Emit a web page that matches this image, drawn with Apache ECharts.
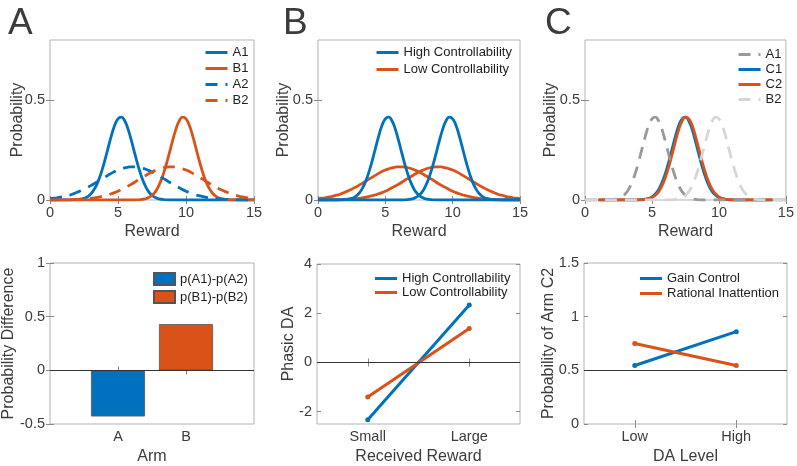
<!DOCTYPE html>
<html>
<head>
<meta charset="utf-8">
<script src="https://cdn.jsdelivr.net/npm/echarts@6/dist/echarts.min.js"></script>
<style>html,body{margin:0;padding:0;background:#fff}#chart{width:797px;height:466px}</style>
</head>
<body>
<div id="chart"></div>
<script>
// ---------- DATA ----------
const rewardX = [0,0.25,0.5,0.75,1,1.25,1.5,1.75,2,2.25,2.5,2.75,3,3.25,3.5,3.75,4,4.25,4.5,4.75,5,5.25,5.5,5.75,6,6.25,6.5,6.75,7,7.25,7.5,7.75,8,8.25,8.5,8.75,9,9.25,9.5,9.75,10,10.25,10.5,10.75,11,11.25,11.5,11.75,12,12.25,12.5,12.75,13,13.25,13.5,13.75,14,14.25,14.5,14.75,15];
const probA1 = [0,0,0,0,0,0,0,0.001,0.002,0.004,0.008,0.016,0.030,0.053,0.087,0.133,0.190,0.254,0.318,0.372,0.406,0.414,0.395,0.352,0.293,0.228,0.166,0.113,0.072,0.042,0.024,0.012,0.006,0.003,0.001,0,0,0,0,0,0,0,0,0,0,0,0,0,0,0,0,0,0,0,0,0,0,0,0,0,0];
const probB1 = [0,0,0,0,0,0,0,0,0,0,0,0,0,0,0,0,0,0,0,0,0,0,0,0,0,0,0.001,0.003,0.006,0.012,0.024,0.042,0.072,0.113,0.166,0.228,0.293,0.352,0.395,0.414,0.406,0.372,0.318,0.254,0.190,0.133,0.087,0.053,0.030,0.016,0.008,0.004,0.002,0.001,0,0,0,0,0,0,0];
const probA2 = [0.007,0.009,0.011,0.014,0.017,0.022,0.026,0.032,0.039,0.046,0.054,0.063,0.072,0.082,0.092,0.103,0.113,0.123,0.133,0.142,0.150,0.156,0.161,0.164,0.166,0.166,0.164,0.160,0.155,0.148,0.140,0.131,0.121,0.111,0.101,0.090,0.080,0.070,0.061,0.052,0.044,0.037,0.031,0.025,0.021,0.017,0.013,0.010,0.008,0.006,0.005,0.004,0.003,0.002,0.001,0.001,0.001,0.001,0,0,0];
const probB2 = [0,0,0,0.001,0.001,0.001,0.001,0.002,0.003,0.004,0.005,0.006,0.008,0.010,0.013,0.017,0.021,0.025,0.031,0.037,0.044,0.052,0.061,0.070,0.080,0.090,0.101,0.111,0.121,0.131,0.140,0.148,0.155,0.160,0.164,0.166,0.166,0.164,0.161,0.156,0.150,0.142,0.133,0.123,0.113,0.103,0.092,0.082,0.072,0.063,0.054,0.046,0.039,0.032,0.026,0.022,0.017,0.014,0.011,0.009,0.007];
const probC1 = [null,null,null,null,0,0,0,0,0,0,0,0,0,0,0,0,0.001,0.002,0.004,0.008,0.016,0.030,0.053,0.087,0.133,0.190,0.254,0.318,0.372,0.406,0.414,0.395,0.352,0.293,0.228,0.166,0.113,0.072,0.042,0.024,0.012,0.006,0.003,0.001,0,0,0,0,0,0,0,0,0,0,0,0,0,null,null,null,null];
const probC2 = [null,null,null,null,0,0,0,0,0,0,0,0,0,0,0,0,0,0.001,0.003,0.006,0.012,0.024,0.042,0.072,0.113,0.166,0.228,0.293,0.352,0.395,0.414,0.406,0.372,0.318,0.254,0.190,0.133,0.087,0.053,0.030,0.016,0.008,0.004,0.002,0.001,0,0,0,0,0,0,0,0,0,0,0,0,null,null,null,null];

const armCategories = ['A', 'B'];
const probDifference = [-0.43, 0.43];

const rewardLevels = ['Small', 'Large'];
const phasicHigh = [-2.33, 2.33];
const phasicLow = [-1.4, 1.38];

const daLevels = ['Low', 'High'];
const gainControl = [0.545, 0.86];
const rationalInattention = [0.75, 0.545];

const panelLetters = ['A', 'B', 'C'];

// ---------- STYLE ----------
const BLUE = '#0072BD', ORANGE = '#D95319', GRAY = '#999999', LIGHT = '#d6d6d6';
const TXT = '#3c3c3c', TICK = '#8a8a8a', BOX = '#b3b3b3';
const FONT = 'Liberation Sans, Arial, sans-serif';
const LW = 2.8;

const grids = [
  {left: 50, top: 40, width: 204, height: 160},
  {left: 318, top: 40, width: 202, height: 160},
  {left: 585, top: 40, width: 202, height: 160},
  {left: 50, top: 263, width: 204, height: 162},
  {left: 317, top: 264, width: 203, height: 161},
  {left: 584, top: 263, width: 203, height: 162}
].map(g => Object.assign({show: true, borderColor: BOX, borderWidth: 1, backgroundColor: 'transparent'}, g));

const xAxes = [], yAxes = [];
const nameStyle = {color: TXT, fontSize: 16, fontFamily: FONT};
const labStyle = {color: TXT, fontSize: 14.5, fontFamily: FONT};

function addX(gi, cfg) {
  ['bottom', 'top'].forEach(pos => {
    const main = pos === 'bottom';
    const ax = Object.assign({
      gridIndex: gi, position: pos,
      axisLine: {show: false}, splitLine: {show: false},
      axisTick: Object.assign({show: true, inside: true, length: 4, lineStyle: {color: TICK}}, cfg.tick || {}),
      axisLabel: Object.assign({show: main, margin: 5}, labStyle, cfg.label || {}),
      name: main ? cfg.name : '', nameLocation: 'middle', nameGap: cfg.nameGap || 24, nameTextStyle: nameStyle,
      nameMoveOverlap: false
    }, cfg.base);
    xAxes.push(ax);
  });
}
function addY(gi, cfg) {
  ['left', 'right'].forEach(pos => {
    const main = pos === 'left';
    const ax = Object.assign({
      gridIndex: gi, position: pos, type: 'value',
      axisLine: {show: false}, splitLine: {show: false},
      axisTick: Object.assign({show: true, inside: true, length: 4, lineStyle: {color: TICK}}, cfg.tick || {}),
      axisLabel: Object.assign({show: main, margin: 5}, labStyle, cfg.label || {}),
      name: main ? cfg.name : '', nameLocation: 'middle', nameGap: cfg.nameGap, nameTextStyle: nameStyle,
      nameMoveOverlap: false
    }, cfg.base);
    yAxes.push(ax);
  });
}

// top row
for (let g = 0; g < 3; g++) {
  addX(g, {base: {type: 'value', min: 0, max: 15, interval: 5}, name: 'Reward', nameGap: 24});
  addY(g, {base: {min: 0, max: 0.8}, tick: {customValues: [0, 0.5]}, label: {customValues: [0, 0.5]},
           name: 'Probability', nameGap: [24, 26, 26][g]});
}
// bottom A
addX(3, {base: {type: 'value', min: 0, max: 3}, tick: {customValues: [1, 2]},
         label: {customValues: [1, 2], formatter: v => armCategories[Math.round(v) - 1]}, name: 'Arm', nameGap: 25});
addY(3, {base: {min: -0.5, max: 1, interval: 0.5}, name: 'Probability Difference', nameGap: 33});
// bottom B
addX(4, {base: {type: 'category', data: rewardLevels, boundaryGap: true}, tick: {alignWithLabel: true},
         name: 'Received Reward', nameGap: 25});
addY(4, {base: {min: -2.5, max: 4}, tick: {customValues: [-2, 0, 2, 4]}, label: {customValues: [-2, 0, 2, 4]},
         name: 'Phasic DA', nameGap: 20});
// bottom C
addX(5, {base: {type: 'category', data: daLevels, boundaryGap: true}, tick: {alignWithLabel: true},
         name: 'DA Level', nameGap: 25});
addY(5, {base: {min: 0, max: 1.5, interval: 0.5}, name: 'Probability of Arm C2', nameGap: 27});

const pairs = arr => rewardX.map((x, i) => [x, arr[i]]);
function curve(g, name, arr, color, dashed) {
  return {
    type: 'line', name, xAxisIndex: 2 * g, yAxisIndex: 2 * g, data: pairs(arr),
    smooth: true, symbol: 'none', connectNulls: false,
    lineStyle: {color, width: LW, type: dashed ? [12, 8] : 'solid'}, itemStyle: {color},
    animation: false
  };
}
const zeroLine = v => ({silent: true, symbol: 'none', label: {show: false},
  lineStyle: {color: '#333', width: 1, type: 'solid'}, data: [{yAxis: v}], animation: false});

function catLine(g, name, vals, color, ml) {
  const s = {
    type: 'line', name, xAxisIndex: 2 * g, yAxisIndex: 2 * g, data: vals,
    symbol: 'circle', symbolSize: 5, showSymbol: true,
    lineStyle: {color, width: 3}, itemStyle: {color}, animation: false
  };
  if (ml !== undefined) s.markLine = zeroLine(ml);
  return s;
}

const series = [
  curve(0, 'A1', probA1, BLUE),
  curve(0, 'B1', probB1, ORANGE),
  curve(0, 'A2', probA2, BLUE, true),
  curve(0, 'B2', probB2, ORANGE, true),

  curve(1, 'Low Controllability', probA2, ORANGE),
  curve(1, 'Low Controllability', probB2, ORANGE),
  curve(1, 'High Controllability', probA1, BLUE),
  curve(1, 'High Controllability', probB1, BLUE),

  curve(2, 'C1', probC1, BLUE),
  curve(2, 'C2', probC2, ORANGE),
  curve(2, 'A1|c', probA1, GRAY, true),
  curve(2, 'B2|c', probB1, LIGHT, true),

  {type: 'bar', name: 'p(A1)-p(A2)', xAxisIndex: 6, yAxisIndex: 6, data: [[1, probDifference[0]]],
   barWidth: 54, barGap: '-100%', itemStyle: {color: BLUE, borderColor: '#555', borderWidth: 0.8}, animation: false},
  {type: 'bar', name: 'p(B1)-p(B2)', xAxisIndex: 6, yAxisIndex: 6, data: [[2, probDifference[1]]],
   barWidth: 54, barGap: '-100%', itemStyle: {color: ORANGE, borderColor: '#555', borderWidth: 0.8}, animation: false,
   markLine: zeroLine(0)},

  catLine(4, 'High Controllability|b', phasicHigh, BLUE, 0),
  catLine(4, 'Low Controllability|b', phasicLow, ORANGE),

  catLine(5, 'Gain Control', gainControl, BLUE, 0.5),
  catLine(5, 'Rational Inattention', rationalInattention, ORANGE)
];

const legendText = {color: '#1e1e1e', fontSize: 13, fontFamily: FONT};
function legend(names, left, top, extra) {
  return Object.assign({
    data: names, left, top, orient: 'vertical', padding: 0, itemGap: 3,
    itemWidth: 22, itemHeight: 14, selectedMode: false, textStyle: legendText,
    itemStyle: {opacity: 0}, lineStyle: {width: 3},
    formatter: n => n.split('|')[0]
  }, extra || {});
}
const legends = [
  legend(['A1', 'B1', 'A2', 'B2'], 204, 46),
  legend(['High Controllability', 'Low Controllability'], 375, 46, {itemGap: 4}),
  legend(['A1|c', 'C1', 'C2', 'B2|c'], 737, 48, {itemGap: 2}),
  legend(['p(A1)-p(A2)', 'p(B1)-p(B2)'], 153, 272, {icon: 'rect', itemWidth: 21, itemHeight: 12, itemGap: 4, itemStyle: {}}),
  legend(['High Controllability|b', 'Low Controllability|b'], 375, 272, {icon: 'rect', itemWidth: 22, itemHeight: 3, itemGap: 1, itemStyle: {}}),
  legend(['Gain Control', 'Rational Inattention'], 640, 272, {icon: 'rect', itemWidth: 22, itemHeight: 3, itemGap: 2, itemStyle: {}})
];

const letterX = [8, 283, 545];
const graphic = panelLetters.map((t, i) => ({
  type: 'text', left: letterX[i], top: 5,
  style: {text: t, font: '37px ' + FONT, fill: TXT}
}));

const chart = echarts.init(document.getElementById('chart'), null, {renderer: 'canvas'});
chart.setOption({
  animation: false,
  backgroundColor: '#fff',
  grid: grids, xAxis: xAxes, yAxis: yAxes, series, legend: legends, graphic
});
</script>
</body>
</html>
